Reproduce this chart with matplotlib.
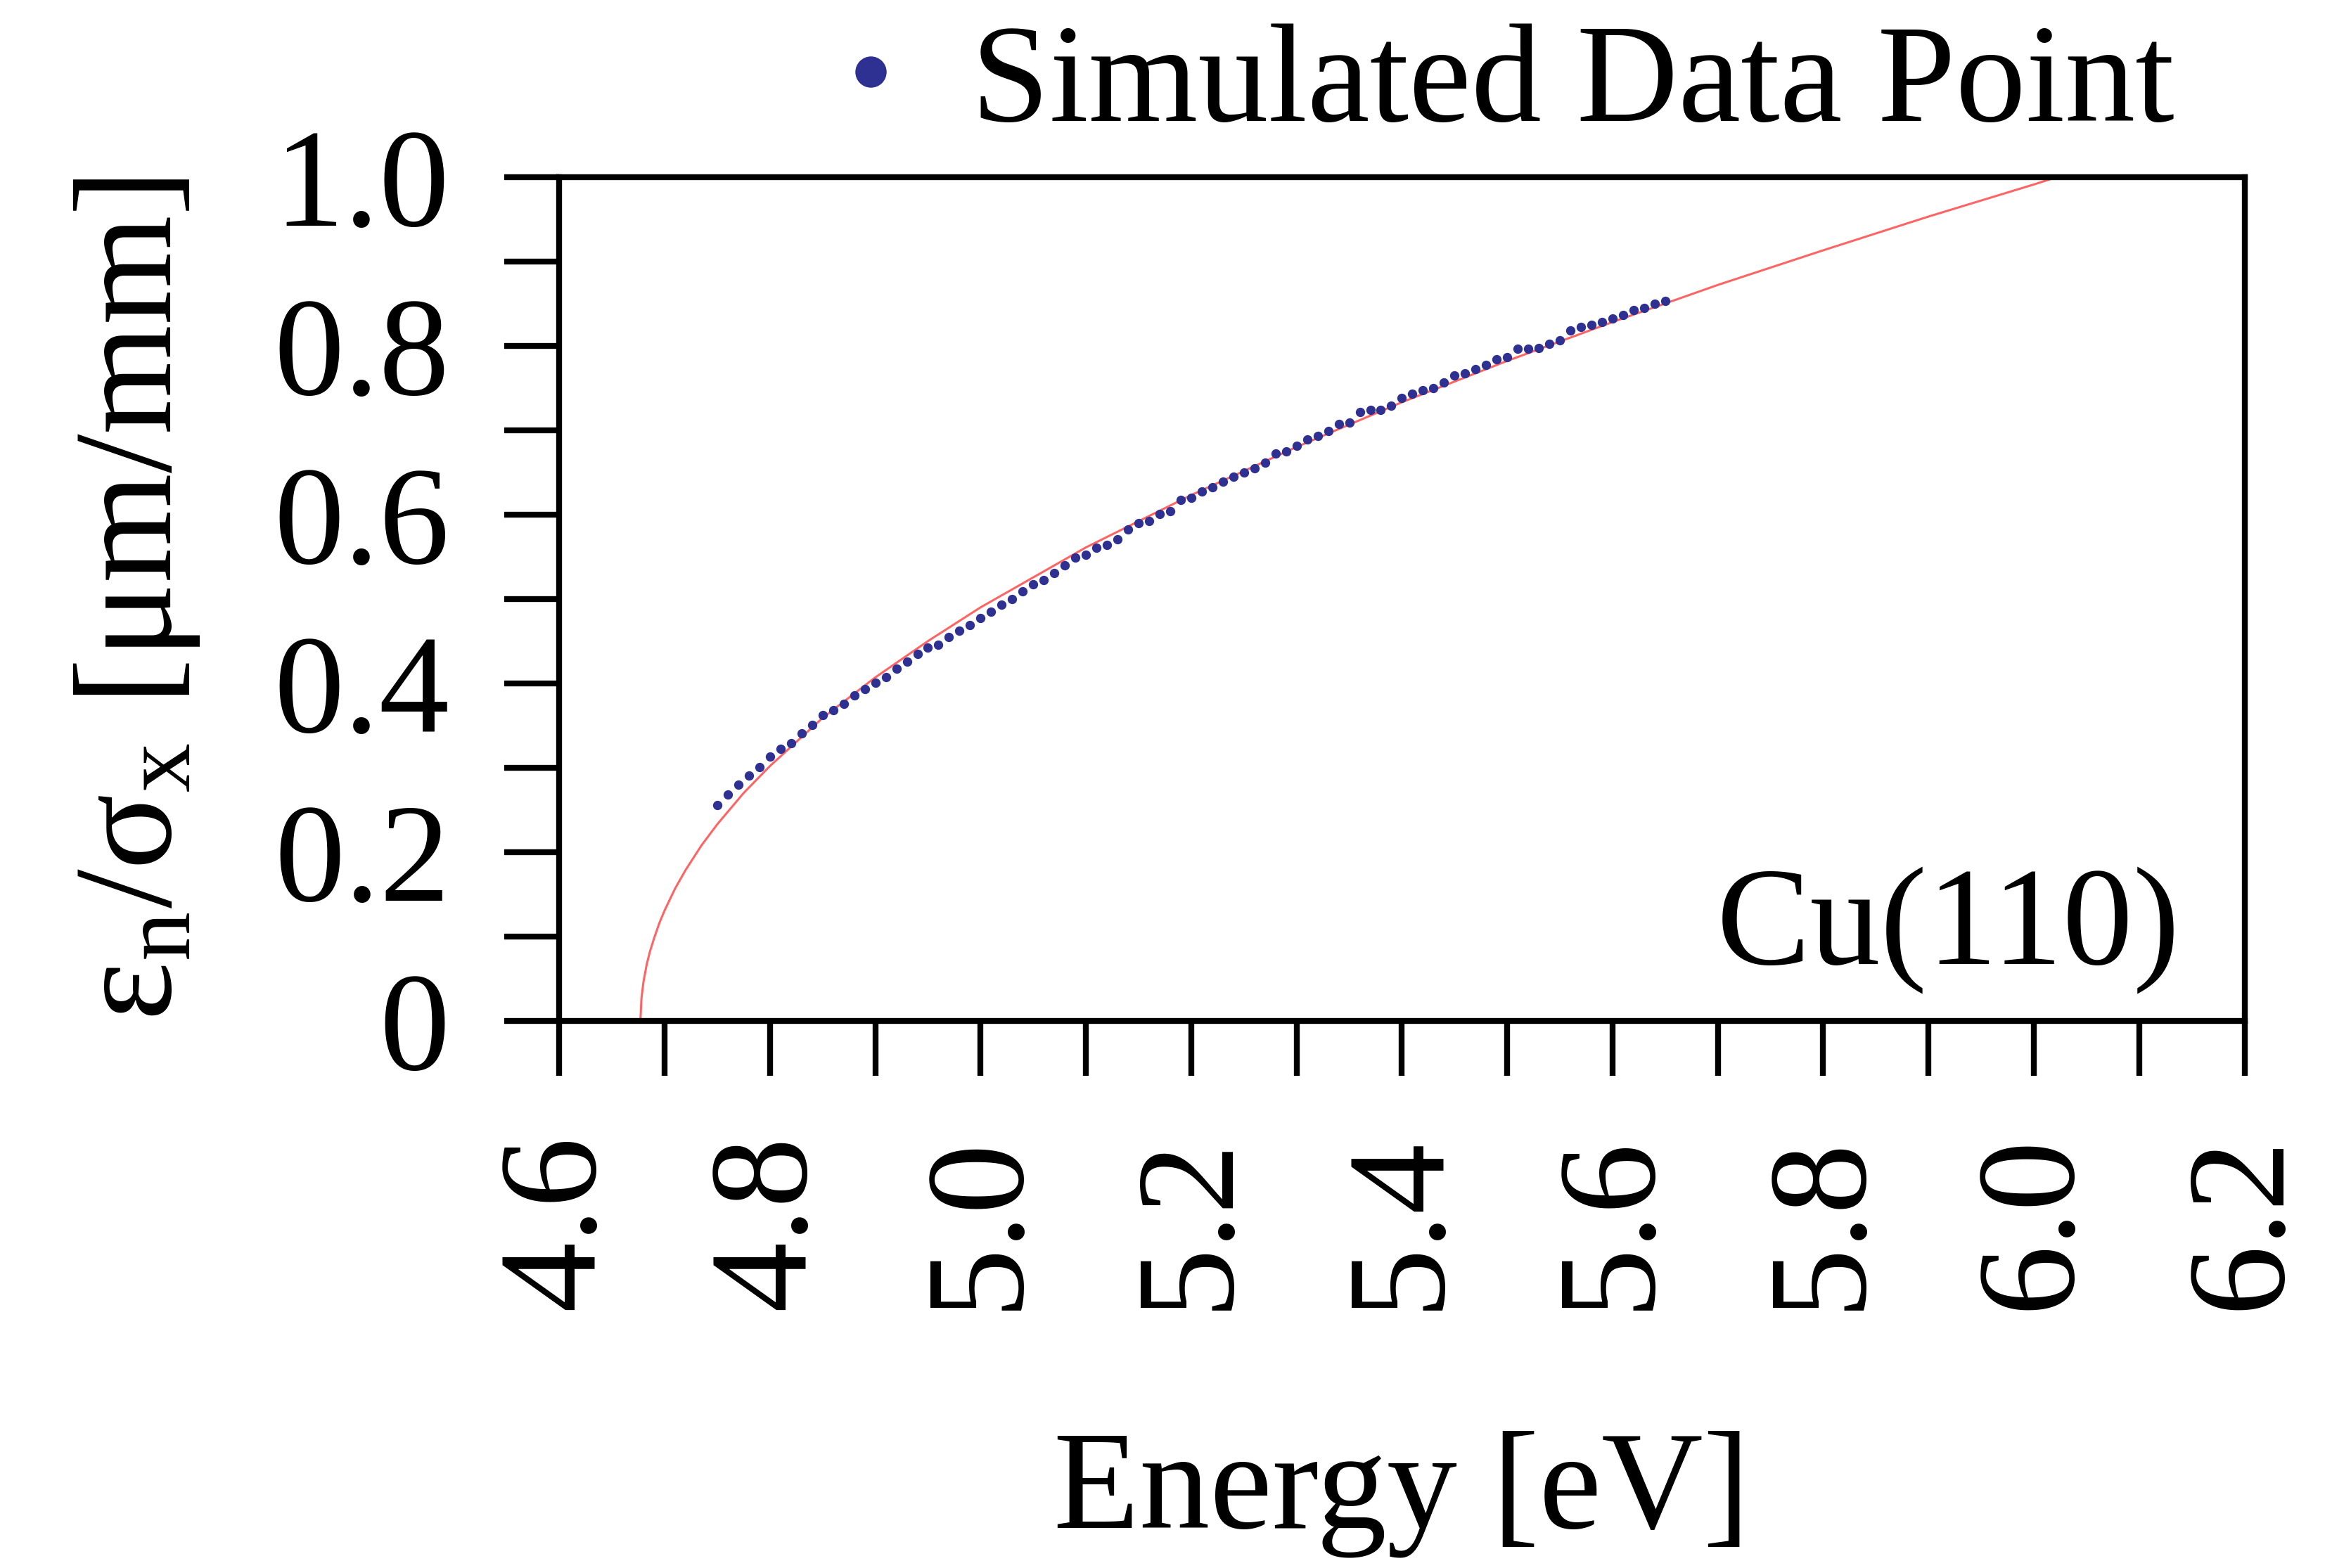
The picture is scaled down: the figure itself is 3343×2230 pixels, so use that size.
import matplotlib
matplotlib.use('Agg')
import matplotlib.pyplot as plt
from matplotlib.lines import Line2D
from matplotlib.ticker import MultipleLocator, FixedLocator, FixedFormatter

# simulated emittance points, Cu(110)
sim_energy = [4.75, 4.76, 4.77, 4.78, 4.79, 4.80, 4.81, 4.82, 4.83, 4.84,
              4.85, 4.86, 4.87, 4.88, 4.89, 4.90, 4.91, 4.92, 4.93, 4.94,
              4.95, 4.96, 4.97, 4.98, 4.99, 5.00, 5.01, 5.02, 5.03, 5.04,
              5.05, 5.06, 5.07, 5.08, 5.09, 5.10, 5.11, 5.12, 5.13, 5.14,
              5.15, 5.16, 5.17, 5.18, 5.19, 5.20, 5.21, 5.22, 5.23, 5.24,
              5.25, 5.26, 5.27, 5.28, 5.29, 5.30, 5.31, 5.32, 5.33, 5.34,
              5.35, 5.36, 5.37, 5.38, 5.39, 5.40, 5.41, 5.42, 5.43, 5.44,
              5.45, 5.46, 5.47, 5.48, 5.49, 5.50, 5.51, 5.52, 5.53, 5.54,
              5.55, 5.56, 5.57, 5.58, 5.59, 5.60, 5.61, 5.62, 5.63, 5.64,
              5.65]
sim_value = [0.256, 0.268, 0.280, 0.291, 0.301, 0.313, 0.322, 0.329, 0.341, 0.351,
             0.362, 0.368, 0.376, 0.386, 0.393, 0.401, 0.407, 0.417, 0.426, 0.435,
             0.442, 0.446, 0.455, 0.462, 0.469, 0.477, 0.485, 0.493, 0.500, 0.509,
             0.517, 0.522, 0.531, 0.540, 0.549, 0.552, 0.561, 0.564, 0.571, 0.582,
             0.590, 0.592, 0.601, 0.604, 0.617, 0.620, 0.627, 0.632, 0.639, 0.645,
             0.650, 0.655, 0.661, 0.672, 0.675, 0.681, 0.689, 0.693, 0.699, 0.707,
             0.709, 0.721, 0.724, 0.724, 0.729, 0.738, 0.743, 0.747, 0.750, 0.756,
             0.765, 0.767, 0.772, 0.777, 0.784, 0.786, 0.796, 0.796, 0.797, 0.802,
             0.806, 0.818, 0.822, 0.825, 0.828, 0.832, 0.836, 0.842, 0.845, 0.850,
             0.853]

# fitted curve
fit_energy = [4.677, 4.678, 4.680, 4.683, 4.686, 4.690, 4.695, 4.700, 4.710, 4.720,
              4.735, 4.750, 4.775, 4.800, 4.850, 4.900, 4.950, 5.000, 5.100, 5.200,
              5.300, 5.400, 5.500, 5.600, 5.700, 5.800, 5.900, 6.000, 6.020, 6.030]
fit_value = [0.000, 0.027, 0.047, 0.067, 0.082, 0.098, 0.116, 0.131, 0.157, 0.179,
             0.208, 0.233, 0.270, 0.302, 0.359, 0.407, 0.450, 0.490, 0.561, 0.623,
             0.680, 0.733, 0.782, 0.828, 0.872, 0.913, 0.953, 0.991, 0.999, 1.003]

x_ticks = [4.6, 4.8, 5.0, 5.2, 5.4, 5.6, 5.8, 6.0, 6.2]
x_labels = ['4.6', '4.8', '5.0', '5.2', '5.4', '5.6', '5.8', '6.0', '6.2']
y_ticks = [0.0, 0.2, 0.4, 0.6, 0.8, 1.0]
y_labels = ['0', '0.2', '0.4', '0.6', '0.8', '1.0']

plt.rcParams['font.family'] = ['Liberation Serif', 'DejaVu Serif']
plt.rcParams['mathtext.fontset'] = 'custom'
plt.rcParams['mathtext.rm'] = 'Liberation Serif'
plt.rcParams['mathtext.it'] = 'Liberation Serif:italic'

FS = 72
DOT = '#2e3192'

fig = plt.figure(figsize=(16.715, 11.15), dpi=200)
ax = fig.add_axes([0.2379, 0.3489, 0.7168, 0.5383])

ax.plot(fit_energy, fit_value, color='#ff6464', lw=1.1, zorder=2)
ax.plot(sim_energy, sim_value, 'o', ms=4.8, mew=0, color=DOT, zorder=3)

ax.set_xlim(4.6, 6.2)
ax.set_ylim(0, 1.0)

ax.xaxis.set_major_locator(FixedLocator(x_ticks))
ax.xaxis.set_major_formatter(FixedFormatter(x_labels))
ax.xaxis.set_minor_locator(MultipleLocator(0.1))
ax.yaxis.set_major_locator(FixedLocator(y_ticks))
ax.yaxis.set_major_formatter(FixedFormatter(y_labels))
ax.yaxis.set_minor_locator(MultipleLocator(0.1))

for s in ax.spines.values():
    s.set_linewidth(3)
ax.tick_params(which='both', direction='out', length=28, width=3, color='black')
ax.tick_params(axis='x', which='major', labelsize=FS, pad=30, labelrotation=90)
ax.tick_params(axis='y', which='major', labelsize=FS, pad=28)

ax.set_xlabel('Energy [eV]', fontsize=FS)
ax.xaxis.set_label_coords(0.5, -0.485)
ax.set_ylabel(r'$\mathrm{ε_n/σ_x}$ [μm/mm]', fontsize=FS)
ax.yaxis.set_label_coords(-0.212, 0.5)

ax.text(0.962, 0.108, 'Cu(110)', transform=ax.transAxes, ha='right', va='center',
        fontsize=FS)

# legend marker is drawn bigger than the data dots
proxy = Line2D([], [], ls='none', marker='o', ms=16, mew=0, color=DOT)
ax.legend([proxy], ['Simulated Data Point'], loc='center right',
          bbox_to_anchor=(0.9247, 0.945), bbox_transform=fig.transFigure,
          frameon=False, fontsize=FS, handlelength=0.6, handletextpad=0.415,
          borderpad=0, borderaxespad=0, numpoints=1)

fig.savefig('out.png', dpi=200)
